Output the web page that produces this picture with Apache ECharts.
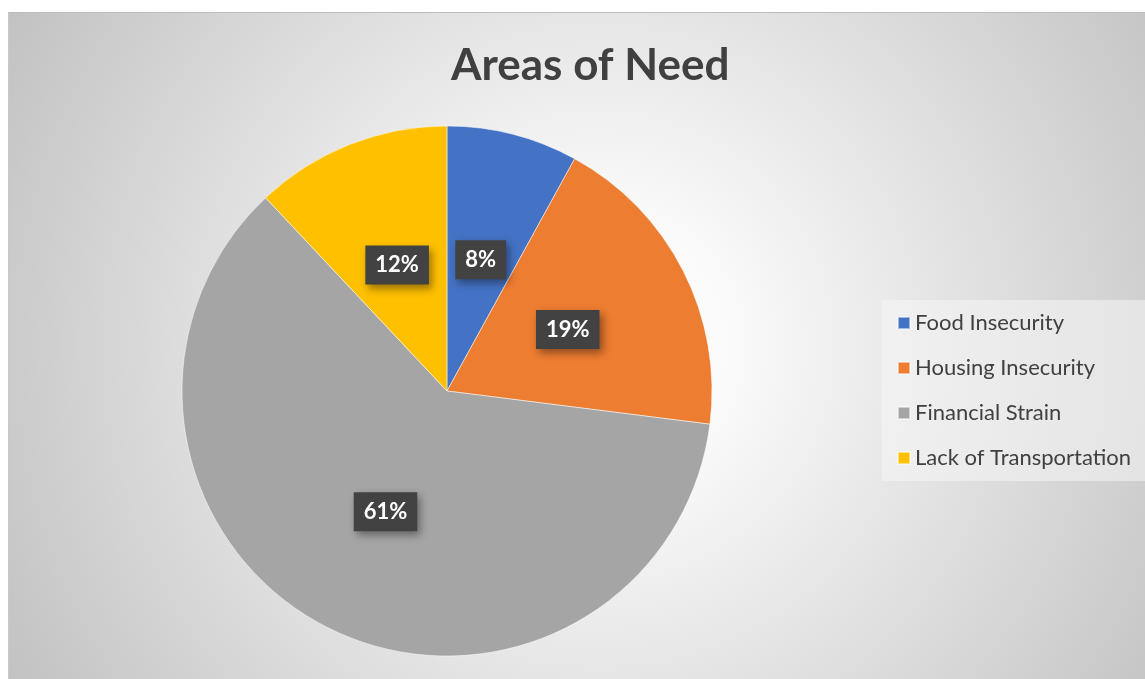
<!DOCTYPE html>
<html>
<head>
<meta charset="utf-8">
<script src="https://cdn.jsdelivr.net/npm/echarts@6/dist/echarts.min.js"></script>
<style>
  html, body { margin: 0; padding: 0; background: #ffffff; width: 1145px; height: 679px; overflow: hidden; }
  #chart {
    position: absolute; left: 8px; top: 12px; width: 1137px; height: 667px;
    background: radial-gradient(circle farthest-corner at 52% 50%, #ffffff 0%, #fbfbfb 18%, #c2c2c2 100%);
    border-top: 1px solid #bdbdbd; border-left: 1px solid #c8c8c8; box-sizing: border-box;
  }
</style>
</head>
<body>
<div id="chart"></div>
<script>
const categories = ['Food Insecurity', 'Housing Insecurity', 'Financial Strain', 'Lack of Transportation'];
const values = [8, 19, 61, 12];
const colors = ['#4472C4', '#ED7D31', '#A5A5A5', '#FFC000'];
const titleText = 'Areas of Need';

const chart = echarts.init(document.getElementById('chart'));
const fontFam = 'Lato, "Open Sans", sans-serif';
chart.setOption({
  animation: false,
  title: {
    text: titleText,
    left: 437,
    top: 26,
    textStyle: { fontFamily: fontFam, fontSize: 44, fontWeight: 'bold', color: '#404040' }
  },
  legend: {
    orient: 'vertical',
    left: 873,
    top: 287,
    width: 270,
    backgroundColor: 'rgba(245,245,245,0.55)',
    padding: [12, 60, 12, 15],
    itemWidth: 12,
    itemHeight: 12,
    itemGap: 23,
    icon: 'rect',
    textStyle: { fontFamily: fontFam, fontSize: 22, color: '#404040', lineHeight: 22 },
    data: categories
  },
  series: [{
    type: 'pie',
    center: [438, 378],
    radius: 265,
    startAngle: 90,
    clockwise: true,
    avoidLabelOverlap: false,
    itemStyle: { borderColor: 'rgba(255,255,255,0.5)', borderWidth: 1 },
    label: {
      show: true,
      position: 'inside',
      formatter: '{d}%',
      color: '#ffffff',
      fontFamily: fontFam,
      fontSize: 22,
      fontWeight: 'bold',
      backgroundColor: '#424242',
      padding: [9, 10, 8, 10],
      shadowColor: 'rgba(0,0,0,0.4)',
      shadowBlur: 8,
      shadowOffsetX: 3,
      shadowOffsetY: 4
    },
    labelLine: { show: false },
    emphasis: { disabled: true },
    data: categories.map((c, i) => ({ name: c, value: values[i], itemStyle: { color: colors[i] } }))
  }]
});
</script>
</body>
</html>
